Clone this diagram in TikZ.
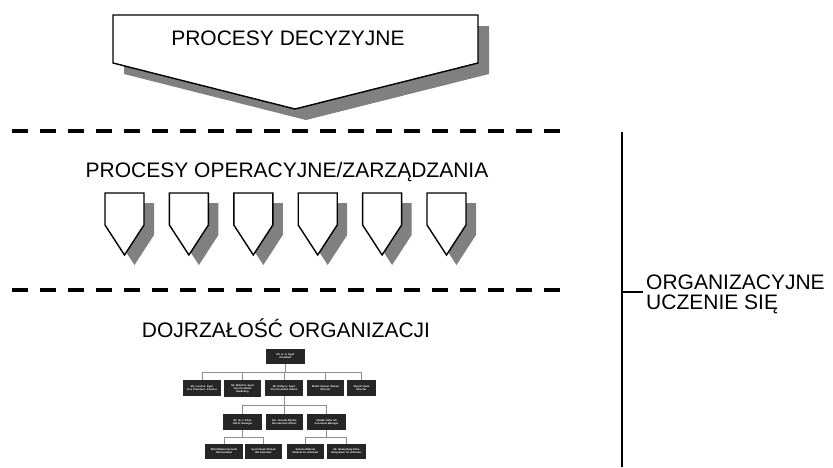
\documentclass[tikz,border=0pt]{standalone}
\usepackage{fontspec}
\setmainfont{Liberation Sans}
\begin{document}
\begin{tikzpicture}[x=1pt,y=-1pt,
  label/.style={font=\fontsize{21}{20}\selectfont, inner sep=0pt},
  shadowfill/.style={fill=black!50, draw=none},
  shapeline/.style={draw=black, line width=1.4pt, fill=white, line join=miter},
  divider/.style={line width=4pt, dash pattern=on 16pt off 12pt},
  person/.style={fill=black!85, text=white, inner sep=0pt,
    font=\bfseries\fontsize{2.6}{3.1}\selectfont, align=center},
  orgline/.style={draw=black!45, line width=0.9pt}]

\useasboundingbox (0,0) rectangle (833,467);

% decision-making chevron with its drop shadow
\fill[shadowfill] (124,26) -- (489,26) -- (489,74) -- (306,120) -- (124,74) -- cycle;
\draw[shapeline] (113,15) -- (478,15) -- (478,63) -- (295,109) -- (113,63) -- cycle;
\node[label] (decision) at (288,38) {PROCESY DECYZYJNE};

% dashed dividers
\coordinate (d1a) at (12,131);
\coordinate (d1b) at (560,131);
\coordinate (d2a) at (12,290);
\coordinate (d2b) at (560,290);
\draw[divider] (d1a) -- (d1b);
\draw[divider] (d2a) -- (d2b);

% operational processes: six small pentagons
\node[label] (oper) at (287,172) {PROCESY OPERACYJNE/ZARZĄDZANIA};
\foreach \i in {0,...,5} {
  \pgfmathsetmacro{\xx}{105+64.4*\i}
  \fill[shadowfill] (\xx+10,203) -- (\xx+49,203) -- (\xx+49,235) -- (\xx+29.5,265) -- (\xx+10,235) -- cycle;
  \draw[shapeline] (\xx,193) -- (\xx+39,193) -- (\xx+39,225) -- (\xx+19.5,255) -- (\xx,225) -- cycle;
}

% organisational maturity: org chart
\node[label] (maturity) at (286,328) {DOJRZAŁOŚĆ ORGANIZACJI};

\node[person, minimum width=39pt, minimum height=15pt] (pres) at (285.5,356.5) {Mr. A. A. Syed\\President};

\node[person, minimum width=38pt, minimum height=16pt] (vpf) at (202,388) {Mr. Lareb A. Syed\\Vice President - Finance};
\node[person, minimum width=37pt, minimum height=17pt] (vpm) at (242.5,388.5) {Mr. Mehdi A. Syed\\Vice President\\Marketing};
\node[person, minimum width=38pt, minimum height=16pt] (vpa) at (284,388) {Mr. Rafay A. Syed\\Vice President Admin};
\node[person, minimum width=37pt, minimum height=16pt] (dir1) at (325.5,388) {Mohd. Naseer Ahmed\\Director};
\node[person, minimum width=29pt, minimum height=16pt] (dir2) at (361.5,388) {Ziya Ul Islam\\Director};

\node[person, minimum width=39pt, minimum height=16pt] (hrd) at (242.5,422) {Mr. M. L. Khan\\H.R.D. Manager};
\node[person, minimum width=37pt, minimum height=16pt] (rec) at (284.5,422) {Ms. Jessela Ritchie\\Recruitment Officer};
\node[person, minimum width=39pt, minimum height=16pt] (cons) at (326.5,422) {Shaikh Jaffer Ali\\Consulate Manager};

\node[person, minimum width=38pt, minimum height=15pt] (hr1) at (224,451.5) {Mohd.Wasim Qureshi\\HR Assistant};
\node[person, minimum width=37pt, minimum height=15pt] (hr2) at (263.5,451.5) {Syed Tanvir Ahmed\\HR Assistant};
\node[person, minimum width=37pt, minimum height=15pt] (med) at (305.5,451.5) {Saleem Makrani\\Medical Co-ordinator};
\node[person, minimum width=39pt, minimum height=15pt] (emi) at (346.5,451.5) {Mr. Ishtaq Baig Khan\\Emigration Co-ordinator};

\foreach \c in {vpf,vpm,vpa,dir1,dir2}
  \draw[orgline] (pres.south) -- ++(0,8) -| (\c.north);
\foreach \c in {hrd,rec,cons}
  \draw[orgline] (vpa.south) -- ++(0,9) -| (\c.north);
\foreach \c in {hr1,hr2}
  \draw[orgline] (hrd.south) -- ++(0,7) -| (\c.north);
\foreach \c in {med,emi}
  \draw[orgline] (cons.south) -- ++(0,7) -| (\c.north);

% organisational learning bracket
\coordinate (btop) at (622,132);
\coordinate (bbot) at (622,467);
\coordinate (btick) at (622,292);
\node[label, anchor=west, align=left] (learn) at (646,294) {ORGANIZACYJNE\\UCZENIE SIĘ};
\draw[line width=1.6pt] (btop) -- (bbot);
\draw[line width=1.4pt] (btick) -- ([xshift=-3pt]learn.west |- btick);
\end{tikzpicture}
\end{document}
